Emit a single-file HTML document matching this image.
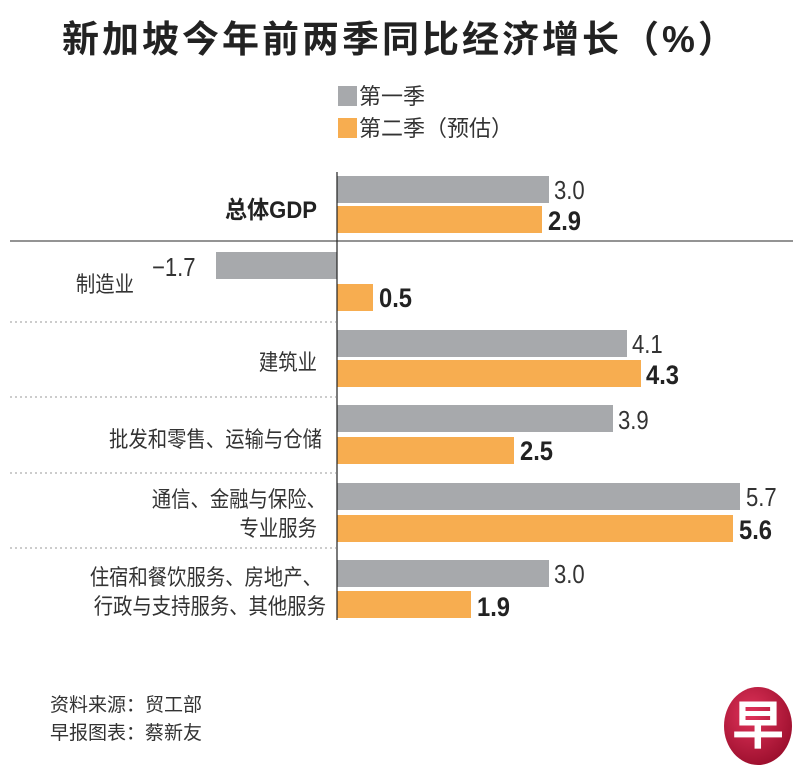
<!DOCTYPE html>
<html><head><meta charset="utf-8"><style>
body{margin:0;background:#fff;width:800px;height:768px;overflow:hidden;font-family:"Liberation Sans","Noto Sans CJK SC",sans-serif}
svg text{font-family:"Liberation Sans","Noto Sans CJK SC",sans-serif}
</style></head><body>
<svg width="800" height="768" viewBox="0 0 800 768">
<defs><radialGradient id="g" cx="0.4" cy="0.35" r="0.7"><stop offset="0" stop-color="#e0335a"/><stop offset="1" stop-color="#9a0e2c"/></radialGradient></defs>
<text x="62" y="52" font-size="37" font-weight="bold" fill="#222" letter-spacing="3">新加坡今年前两季同比经济增长（%）</text>
<rect x="338" y="86" width="19" height="20" fill="#a7a9ac"/>
<text x="359" y="104" font-size="22" fill="#333">第一季</text>
<rect x="338" y="118" width="19" height="20" fill="#f7ad50"/>
<text x="359" y="136" font-size="22" fill="#333">第二季（预估）</text>
<line x1="10" y1="241" x2="793" y2="241" stroke="#555" stroke-width="1.2"/>
<g stroke="#999" stroke-width="1" stroke-dasharray="2,3">
<line x1="10" y1="322" x2="336" y2="322"/><line x1="10" y1="397" x2="336" y2="397"/>
<line x1="10" y1="473" x2="336" y2="473"/><line x1="10" y1="548" x2="336" y2="548"/></g>
<g fill="#a7a9ac">
<rect x="337" y="176" width="212" height="27"/>
<rect x="216" y="252" width="121" height="27"/>
<rect x="337" y="330" width="290" height="27"/>
<rect x="337" y="405" width="276" height="27"/>
<rect x="337" y="483" width="403" height="27"/>
<rect x="337" y="560" width="212" height="27"/></g>
<g fill="#f7ad50">
<rect x="337" y="206" width="205" height="27"/>
<rect x="337" y="284" width="36" height="27"/>
<rect x="337" y="360" width="304" height="27"/>
<rect x="337" y="437" width="177" height="27"/>
<rect x="337" y="515" width="396" height="27"/>
<rect x="337" y="591" width="134" height="27"/></g>
<line x1="337" y1="172" x2="337" y2="620" stroke="#222" stroke-width="1.2"/>
<g font-size="26" fill="#333">
<text transform="translate(554,199) scale(0.85,1)">3.0</text>
<text transform="translate(152,276) scale(0.85,1)">−1.7</text>
<text transform="translate(632,353) scale(0.85,1)">4.1</text>
<text transform="translate(618,429) scale(0.85,1)">3.9</text>
<text transform="translate(746,506) scale(0.85,1)">5.7</text>
<text transform="translate(554,583) scale(0.85,1)">3.0</text></g>
<g font-size="27" font-weight="bold" fill="#222">
<text transform="translate(548,230) scale(0.88,1)">2.9</text>
<text transform="translate(379,307) scale(0.88,1)">0.5</text>
<text transform="translate(646,384) scale(0.88,1)">4.3</text>
<text transform="translate(520,460) scale(0.88,1)">2.5</text>
<text transform="translate(739,539) scale(0.88,1)">5.6</text>
<text transform="translate(477,616) scale(0.88,1)">1.9</text></g>
<text transform="translate(317,218) scale(0.92,1)" font-size="24" font-weight="bold" fill="#222" text-anchor="end">总体GDP</text>
<g font-size="22" fill="#333" text-anchor="end">
<text transform="translate(134,292) scale(0.88,1)">制造业</text>
<text transform="translate(317,370) scale(0.88,1)">建筑业</text>
<text transform="translate(322,447) scale(0.88,1)">批发和零售、运输与仓储</text>
<text transform="translate(326,507) scale(0.88,1)">通信、金融与保险、</text>
<text transform="translate(317,536) scale(0.88,1)">专业服务</text>
<text transform="translate(322,585) scale(0.88,1)">住宿和餐饮服务、房地产、</text>
<text transform="translate(326,614) scale(0.88,1)">行政与支持服务、其他服务</text></g>
<g font-size="19" fill="#333">
<text x="50" y="711">资料来源：贸工部</text>
<text x="50" y="739">早报图表：蔡新友</text></g>
<ellipse cx="758" cy="726" rx="34" ry="39" fill="url(#g)"/>
<text x="758" y="744" font-size="52" font-weight="bold" fill="#fff" text-anchor="middle">早</text>
</svg>
</body></html>
